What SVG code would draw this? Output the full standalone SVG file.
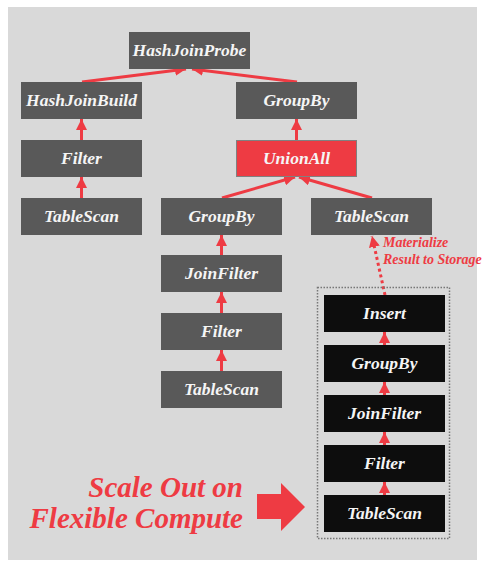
<svg xmlns="http://www.w3.org/2000/svg" width="486" height="567" viewBox="0 0 486 567">
<style>
.n{fill:#595959}
.b{fill:#0d0d0d}
.u{fill:#ee3b43;stroke:#808080;stroke-width:1}
.t{font-family:'Liberation Serif','Times New Roman',serif;font-style:italic;font-weight:bold;font-size:17.5px;fill:#f5f5f5;text-anchor:middle}
.e{stroke:#ee3b43;stroke-width:3;fill:none}
.d{stroke:#ee3b43;stroke-width:3;fill:none;stroke-dasharray:3 3}
.r{font-family:'Liberation Serif','Times New Roman',serif;font-style:italic;font-weight:bold;fill:#ee3b43}
</style>
<defs>
<marker id="ah" markerUnits="userSpaceOnUse" markerWidth="11" markerHeight="11" viewBox="0 0 10 10" refX="10" refY="5" orient="auto">
<path d="M0,0 L10,5 L0,10 z" fill="#ee3b43"/>
</marker>
</defs>
<rect x="0" y="0" width="486" height="567" fill="#ffffff"/>
<rect x="8" y="7" width="469" height="553" fill="#d9d9d9"/>

<g id="connectors">
<line class="e" x1="82" y1="82" x2="186" y2="69" marker-end="url(#ah)"/>
<line class="e" x1="297" y1="82" x2="192" y2="69" marker-end="url(#ah)"/>
<line class="e" x1="81.5" y1="140" x2="81.5" y2="119" marker-end="url(#ah)"/>
<line class="e" x1="81.5" y1="198" x2="81.5" y2="177" marker-end="url(#ah)"/>
<line class="e" x1="296.5" y1="140" x2="296.5" y2="119" marker-end="url(#ah)"/>
<line class="e" x1="222" y1="198" x2="295" y2="177" marker-end="url(#ah)"/>
<line class="e" x1="372" y1="198" x2="299" y2="177" marker-end="url(#ah)"/>
<line class="e" x1="221.5" y1="255" x2="221.5" y2="235" marker-end="url(#ah)"/>
<line class="e" x1="221.5" y1="313" x2="221.5" y2="292" marker-end="url(#ah)"/>
<line class="e" x1="221.5" y1="371" x2="221.5" y2="350" marker-end="url(#ah)"/>
<line class="d" x1="385" y1="295" x2="372" y2="236" marker-end="url(#ah)"/>
<line class="e" x1="384.5" y1="345" x2="384.5" y2="332" marker-end="url(#ah)"/>
<line class="e" x1="384.5" y1="395" x2="384.5" y2="382" marker-end="url(#ah)"/>
<line class="e" x1="384.5" y1="445" x2="384.5" y2="432" marker-end="url(#ah)"/>
<line class="e" x1="384.5" y1="495" x2="384.5" y2="482" marker-end="url(#ah)"/>
</g>

<g id="hashjoinprobe"><rect class="n" x="129" y="32" width="121" height="37"/><text class="t" x="189.5" y="55.5">HashJoinProbe</text></g>
<g id="hashjoinbuild"><rect class="n" x="21" y="82" width="121" height="37"/><text class="t" x="81.5" y="105.5">HashJoinBuild</text></g>
<g id="filter-left"><rect class="n" x="21" y="140" width="121" height="37"/><text class="t" x="81.5" y="163.5">Filter</text></g>
<g id="tablescan-left"><rect class="n" x="21" y="198" width="121" height="37"/><text class="t" x="81.5" y="221.5">TableScan</text></g>
<g id="groupby-top"><rect class="n" x="236" y="82" width="121" height="37"/><text class="t" x="296.5" y="105.5">GroupBy</text></g>
<g id="unionall"><rect class="u" x="236.5" y="140.5" width="120" height="36"/><text class="t" x="296.5" y="163.5">UnionAll</text></g>
<g id="groupby-mid"><rect class="n" x="161" y="198" width="121" height="37"/><text class="t" x="221.5" y="221.5">GroupBy</text></g>
<g id="tablescan-right"><rect class="n" x="311" y="198" width="121" height="37"/><text class="t" x="371.5" y="221.5">TableScan</text></g>
<g id="joinfilter-mid"><rect class="n" x="161" y="255" width="121" height="37"/><text class="t" x="221.5" y="278.5">JoinFilter</text></g>
<g id="filter-mid"><rect class="n" x="161" y="313" width="121" height="37"/><text class="t" x="221.5" y="336.5">Filter</text></g>
<g id="tablescan-mid"><rect class="n" x="161" y="371" width="121" height="37"/><text class="t" x="221.5" y="394.5">TableScan</text></g>

<g id="compute-box"><rect x="317.5" y="287.5" width="132" height="251" fill="none" stroke="#777" stroke-width="1.5" stroke-dasharray="1.5 1.5"/></g>
<g id="insert"><rect class="b" x="324" y="295" width="121" height="37"/><text class="t" x="384.5" y="318.5">Insert</text></g>
<g id="groupby-b"><rect class="b" x="324" y="345" width="121" height="37"/><text class="t" x="384.5" y="368.5">GroupBy</text></g>
<g id="joinfilter-b"><rect class="b" x="324" y="395" width="121" height="37"/><text class="t" x="384.5" y="418.5">JoinFilter</text></g>
<g id="filter-b"><rect class="b" x="324" y="445" width="121" height="37"/><text class="t" x="384.5" y="468.5">Filter</text></g>
<g id="tablescan-b"><rect class="b" x="324" y="495" width="121" height="37"/><text class="t" x="384.5" y="518.5">TableScan</text></g>

<g id="materialize-label">
<text class="r" font-size="14" x="383" y="247">Materialize</text>
<text class="r" font-size="14" x="383" y="264">Result to Storage</text>
</g>
<g id="scale-label">
<text class="r" font-size="29" text-anchor="end" x="243" y="497">Scale Out on</text>
<text class="r" font-size="29" text-anchor="end" x="243" y="528">Flexible Compute</text>
</g>
<g id="big-arrow"><path d="M257,494 L281,494 L281,483 L305,507 L281,531 L281,519 L257,519 z" fill="#ee3b43"/></g>
</svg>
